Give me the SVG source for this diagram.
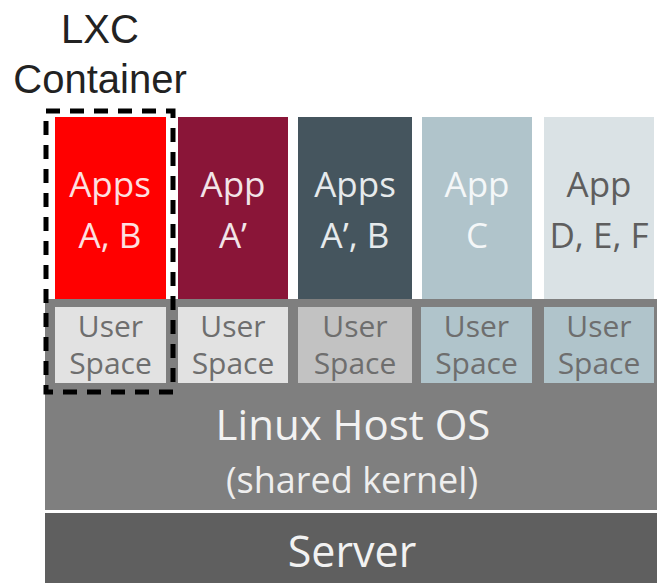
<svg xmlns="http://www.w3.org/2000/svg" width="657" height="583" viewBox="0 0 657 583">
<style>
.t{font-family:"Open Sans","Noto Sans","DejaVu Sans",sans-serif;text-anchor:middle}
.app{font-size:35px}
.us{font-size:30px;fill:#6e6e6e}
.lbl{font-family:"Liberation Sans",Arial,sans-serif;font-size:40px;fill:#222;text-anchor:middle}
</style>
<rect width="657" height="583" fill="#ffffff"/>
<g id="server">
<rect x="45" y="513" width="612" height="70" fill="#5f5f5f"/>
<text class="t" x="352" y="567" font-size="43" fill="#f2f2f2">Server</text>
</g>
<g id="host-os">
<rect x="45" y="299" width="612" height="211" fill="#7f7f7f"/>
<text class="t" x="353" y="440" font-size="42" fill="#f2f2f2">Linux Host OS</text>
<text class="t" x="352" y="493" font-size="36" fill="#eeeeee">(shared kernel)</text>
</g>
<g id="app-ab">
<rect x="55" y="117" width="111" height="182" fill="#ff0000"/>
<text class="t app" x="110" y="197" fill="#fde0e0">Apps</text>
<text class="t app" x="110" y="248" fill="#fde0e0">A, B</text>
</g>
<g id="app-a1">
<rect x="178" y="117" width="110" height="182" fill="#8a1538"/>
<text class="t app" x="233" y="197" fill="#f2e4e8">App</text>
<text class="t app" x="233" y="248" fill="#f2e4e8">A’</text>
</g>
<g id="app-a1b">
<rect x="298" y="117" width="114" height="182" fill="#45555e"/>
<text class="t app" x="355" y="197" fill="#e6eaec">Apps</text>
<text class="t app" x="355" y="248" fill="#e6eaec">A’, B</text>
</g>
<g id="app-c">
<rect x="422" y="117" width="110" height="182" fill="#b0c4cb"/>
<text class="t app" x="477" y="197" fill="#f4f7f8">App</text>
<text class="t app" x="477" y="248" fill="#f4f7f8">C</text>
</g>
<g id="app-def">
<rect x="544" y="117" width="110" height="182" fill="#dae2e5"/>
<text class="t app" x="599" y="197" fill="#5e5e5e">App</text>
<text class="t app" x="599" y="248" fill="#5e5e5e">D, E, F</text>
</g>
<g id="us1">
<rect x="55" y="307" width="111" height="76" fill="#e2e2e2"/>
<text class="t us" x="110.5" y="337">User</text>
<text class="t us" x="110.5" y="374">Space</text>
</g>
<g id="us2">
<rect x="178" y="307" width="110" height="76" fill="#e2e2e2"/>
<text class="t us" x="233" y="337">User</text>
<text class="t us" x="233" y="374">Space</text>
</g>
<g id="us3">
<rect x="298" y="307" width="114" height="76" fill="#c2c2c2"/>
<text class="t us" x="355" y="337">User</text>
<text class="t us" x="355" y="374">Space</text>
</g>
<g id="us4">
<rect x="421" y="307" width="111" height="76" fill="#b0c4cb"/>
<text class="t us" x="476.5" y="337" fill="#5f6a6f">User</text>
<text class="t us" x="476.5" y="374" fill="#5f6a6f">Space</text>
</g>
<g id="us5">
<rect x="544" y="307" width="110" height="76" fill="#b0c4cb"/>
<text class="t us" x="599" y="337" fill="#5f6a6f">User</text>
<text class="t us" x="599" y="374" fill="#5f6a6f">Space</text>
</g>
<g id="lxc">
<rect x="46" y="111" width="127" height="281" fill="none" stroke="#000" stroke-width="5" stroke-dasharray="14 10"/>
<text class="lbl" x="100" y="43">LXC</text>
<text class="lbl" x="100" y="93">Container</text>
</g>
<g id="connectors"/>
</svg>
